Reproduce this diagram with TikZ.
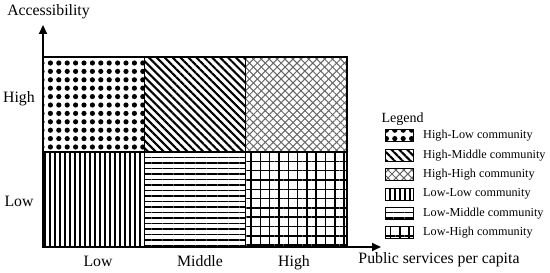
\documentclass[tikz,border=0pt]{standalone}
\usepackage{fontspec}
\setmainfont{Liberation Serif}
\usetikzlibrary{arrows.meta,patterns.meta}

\begin{document}
\begin{tikzpicture}[
  x=1pt,y=1pt,
  cell/.style={
    draw,
    line width=1.5pt,
    minimum width=101.3pt,
    minimum height=95pt,
    inner sep=0pt,
    outer sep=0pt
  },
  key/.style={
    draw,
    line width=1pt,
    minimum width=28pt,
    minimum height=12pt,
    inner sep=0pt
  },
  highlowfill/.style={pattern={Dots[distance=8.4pt,radius=2.6pt]}},
  highmiddlefill/.style={pattern={Lines[angle=-45,distance=5.6pt,line width=2.1pt]}},
  highhighfill/.style={
    pattern={Lines[angle=45,distance=5.6pt,line width=1pt]},pattern color=gray!80!black,
    preaction={pattern={Lines[angle=-45,distance=5.6pt,line width=1pt]},pattern color=gray!80!black}},
  lowlowfill/.style={pattern={Lines[angle=90,distance=5pt,line width=1.3pt]}},
  lowmiddlefill/.style={pattern={Lines[angle=0,distance=5.5pt,line width=1.3pt]}},
  lowhighfill/.style={
    pattern={Lines[angle=0,distance=9.3pt,line width=1.5pt]},
    preaction={pattern={Lines[angle=90,distance=9.3pt,line width=1.5pt]}}},
  axislabel/.style={font=\fontsize{15.8}{18}\selectfont,anchor=base},
  axis/.style={line width=2pt,-{Triangle[length=9pt,width=8pt]}}
]
  \useasboundingbox (0,0) rectangle (550,273);

  % cells
  \node[cell,highlowfill] (highlow) at (93.7,168.5) {};
  \node[cell,highmiddlefill] (highmiddle) at (195,168.5) {};
  \node[cell,highhighfill] (highhigh) at (296.3,168.5) {};
  \node[cell,lowlowfill] (lowlow) at (93.7,73.5) {};
  \node[cell,lowmiddlefill] (lowmiddle) at (195,73.5) {};
  \node[cell,lowhighfill] (lowhigh) at (296.3,73.5) {};

  % axes
  \coordinate (origin) at (43,26);
  \coordinate (ytip) at (43,248);
  \coordinate (xtip) at (381,26);
  \draw[axis] (origin) -- (ytip);
  \draw[axis] (origin) -- (xtip);

  \node[axislabel] (ytitle) at (48.5,257) {Accessibility};
  \node[axislabel] (xtitle) at (439,9) {Public services per capita};
  \node[axislabel] (yhigh) at (19,170) {High};
  \node[axislabel] (ylow) at (19,66) {Low};
  \node[axislabel] (xlow) at (98,6) {Low};
  \node[axislabel] (xmiddle) at (200,6) {Middle};
  \node[axislabel] (xhigh) at (294,6) {High};

  % legend
  \node[anchor=base west,font=\fontsize{14}{16}\selectfont] (legend) at (378,150) {Legend};
  \foreach \name/\style/\text [count=\i from 0] in {
      keyhl/highlowfill/High-Low community,
      keyhm/highmiddlefill/High-Middle community,
      keyhh/highhighfill/High-High community,
      keyll/lowlowfill/Low-Low community,
      keylm/lowmiddlefill/Low-Middle community,
      keylh/lowhighfill/Low-High community}{
    \node[key,\style] (\name) at (399,137-19.4*\i) {};
    \node[anchor=west,font=\fontsize{12.2}{14}\selectfont,inner sep=0pt]
      (\name text) at (423,137-19.4*\i) {\text};
  }
\end{tikzpicture}
\end{document}
